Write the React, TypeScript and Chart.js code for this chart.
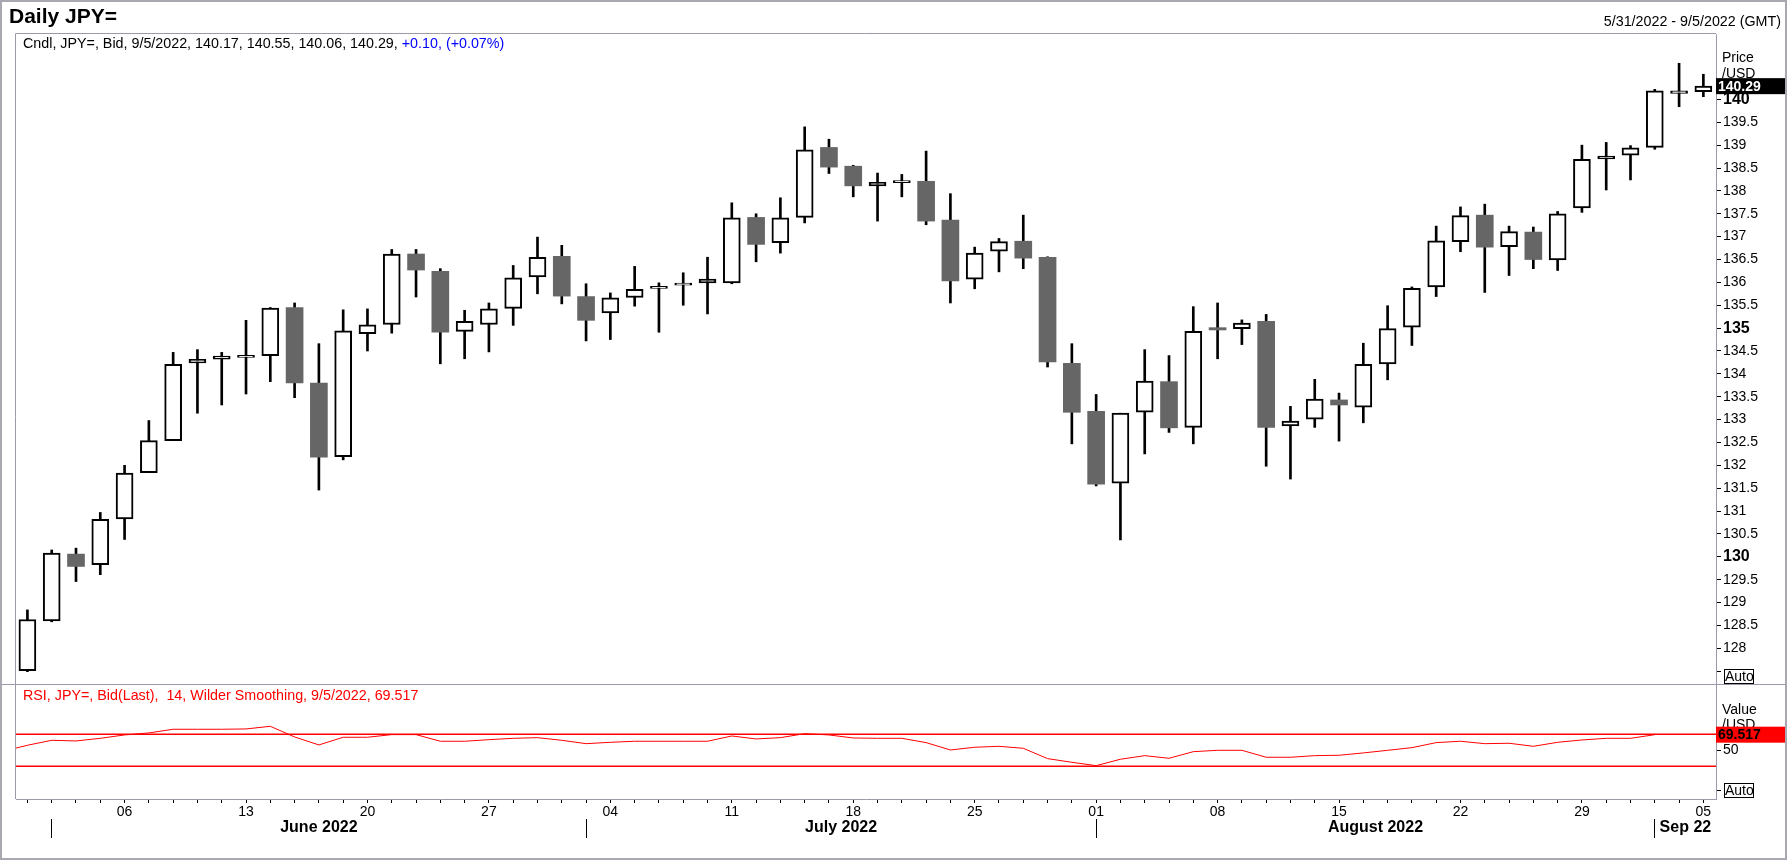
import React, { useEffect, useRef } from 'react';
import { Chart, registerables } from 'chart.js';

Chart.register(...registerables);

const FONT = "'Liberation Sans', Arial, sans-serif";
const FRAME = '#9a9aaa';

const dates = [
  '2022-05-31',
  '2022-06-01', '2022-06-02', '2022-06-03',
  '2022-06-06', '2022-06-07', '2022-06-08', '2022-06-09', '2022-06-10',
  '2022-06-13', '2022-06-14', '2022-06-15', '2022-06-16', '2022-06-17',
  '2022-06-20', '2022-06-21', '2022-06-22', '2022-06-23', '2022-06-24',
  '2022-06-27', '2022-06-28', '2022-06-29', '2022-06-30', '2022-07-01',
  '2022-07-04', '2022-07-05', '2022-07-06', '2022-07-07', '2022-07-08',
  '2022-07-11', '2022-07-12', '2022-07-13', '2022-07-14', '2022-07-15',
  '2022-07-18', '2022-07-19', '2022-07-20', '2022-07-21', '2022-07-22',
  '2022-07-25', '2022-07-26', '2022-07-27', '2022-07-28', '2022-07-29',
  '2022-08-01', '2022-08-02', '2022-08-03', '2022-08-04', '2022-08-05',
  '2022-08-08', '2022-08-09', '2022-08-10', '2022-08-11', '2022-08-12',
  '2022-08-15', '2022-08-16', '2022-08-17', '2022-08-18', '2022-08-19',
  '2022-08-22', '2022-08-23', '2022-08-24', '2022-08-25', '2022-08-26',
  '2022-08-29', '2022-08-30', '2022-08-31', '2022-09-01', '2022-09-02',
  '2022-09-05',
];

const opens = [
  127.51, 128.60, 130.06, 129.83, 130.83, 131.84, 132.54, 134.24, 134.32, 134.36,
  134.40, 135.45, 133.80, 132.19, 134.88, 135.08, 136.62, 136.24, 134.93, 135.08,
  135.43, 136.12, 136.57, 135.69, 135.33, 135.67, 135.87, 135.94, 135.99, 135.99,
  137.42, 136.87, 137.42, 138.95, 138.54, 138.11, 138.18, 138.21, 137.36, 136.07,
  136.68, 136.90, 136.55, 134.23, 133.18, 131.61, 133.16, 133.83, 132.83, 135.01,
  134.99, 135.15, 132.86, 133.01, 133.43, 133.27, 134.22, 135.02, 135.90, 136.89,
  137.47, 136.78, 137.10, 136.49, 137.63, 138.70, 138.78, 138.95, 140.13, 140.17,
];
const highs = [
  128.84, 130.15, 130.19, 130.97, 132.00, 132.98, 134.47, 134.53, 134.47, 135.17,
  135.45, 135.55, 134.66, 135.40, 135.42, 136.72, 136.72, 136.30, 135.39, 135.55,
  136.37, 136.99, 136.81, 135.97, 135.77, 136.35, 135.99, 136.21, 136.55, 137.74,
  137.50, 137.85, 139.40, 139.13, 138.56, 138.39, 138.36, 138.87, 137.94, 136.77,
  136.96, 137.47, 136.56, 134.66, 133.55, 133.14, 134.53, 134.40, 135.47, 135.55,
  135.18, 135.30, 133.29, 133.88, 133.58, 134.67, 135.49, 135.90, 137.23, 137.65,
  137.71, 137.23, 137.21, 137.55, 139.00, 139.06, 138.99, 140.22, 140.79, 140.55,
];
const lows = [
  127.49, 128.58, 129.46, 129.61, 130.38, 131.84, 132.54, 133.14, 133.32, 133.56,
  133.83, 133.48, 131.46, 132.12, 134.50, 134.89, 135.68, 134.22, 134.33, 134.48,
  135.06, 135.75, 135.53, 134.72, 134.75, 135.48, 134.91, 135.50, 135.31, 135.97,
  136.45, 136.64, 137.30, 138.38, 137.87, 137.34, 137.87, 137.26, 135.55, 135.86,
  136.23, 136.30, 134.15, 132.47, 131.55, 130.37, 132.25, 132.72, 132.47, 134.33,
  134.64, 131.98, 131.70, 132.83, 132.53, 132.93, 133.87, 134.62, 135.69, 136.67,
  135.78, 136.15, 136.30, 136.26, 137.53, 138.02, 138.24, 138.91, 139.84, 140.06,
];
const closes = [
  128.63, 130.08, 129.79, 130.82, 131.83, 132.54, 134.21, 134.32, 134.39, 134.37,
  135.44, 133.80, 132.18, 134.94, 135.07, 136.62, 136.27, 134.91, 135.15, 135.42,
  136.10, 136.55, 135.70, 135.17, 135.66, 135.85, 135.88, 135.95, 136.07, 137.41,
  136.83, 137.41, 138.90, 138.52, 138.11, 138.19, 138.19, 137.34, 136.03, 136.64,
  136.89, 136.53, 134.26, 133.16, 131.59, 133.14, 133.84, 132.82, 134.93, 134.96,
  135.11, 132.83, 132.97, 133.45, 133.32, 134.21, 134.99, 135.87, 136.91, 137.46,
  136.77, 137.11, 136.50, 137.50, 138.69, 138.76, 138.94, 140.19, 140.19, 140.29,
];

// RSI value of the session before the first visible candle (5/30/2022)
const rsiPrev = 48.8;
const rsi: (number | null)[] = [
  56.3, 62.5, 61.7, 65.0, 69.2, 71.7, 76.3, 76.3, 76.3, 76.7,
  80.0, 66.7, 56.7, 66.3, 66.3, 69.6, 69.6, 61.3, 61.3, 63.3,
  65.0, 65.8, 62.5, 58.3, 60.0, 61.3, 61.3, 61.3, 61.3, 67.9,
  64.2, 65.8, 70.8, 69.2, 65.4, 65.0, 65.0, 59.6, 50.4, 53.8,
  55.0, 52.5, 39.6, 35.0, 30.8, 38.8, 43.3, 40.0, 48.3, 50.0,
  50.0, 41.3, 41.3, 43.3, 43.8, 46.7, 50.0, 53.3, 59.6, 61.3,
  58.3, 58.8, 55.0, 60.0, 62.9, 65.0, 65.0, 69.517, null, null,
];
const rsiLevels = [70, 30];

const priceTicks = [
  127.5, 128, 128.5, 129, 129.5, 130, 130.5, 131, 131.5, 132, 132.5, 133, 133.5,
  134, 134.5, 135, 135.5, 136, 136.5, 137, 137.5, 138, 138.5, 139, 139.5, 140,
];
const rsiTicks = [0, 50];
const monthNames = ['June 2022', 'July 2022', 'August 2022', 'Sep 22'];

const X_MIN = -0.47;
const X_MAX = 69.52;
const PRICE_MIN = 127.22;
const PRICE_MAX = 141.43;
const RSI_MIN = -10.9;
const RSI_MAX = 132.9;

export default function App() {
  const ref = useRef<HTMLCanvasElement>(null);

  useEffect(() => {
    const canvas = ref.current;
    if (!canvas) return;
    const idx = dates.map((_, i) => i);
    const up = idx.map((i) => closes[i] >= opens[i]);
    const wickData = idx.map((i) => ({ x: i, y: [lows[i], highs[i]] }));
    const bodyData = idx.map((i) => ({ x: i, y: [opens[i], closes[i]] }));
    const rsiData = [{ x: -1, y: rsiPrev }].concat(
      idx.filter((i) => rsi[i] !== null).map((i) => ({ x: i, y: rsi[i] as number }))
    );
    const dayLabels = dates.map((d) =>
      new Date(d + 'T00:00:00Z').getUTCDay() === 1 ? d.slice(8) : ''
    );
    const monthStarts = idx.filter((i) => i > 0 && dates[i].slice(5, 7) !== dates[i - 1].slice(5, 7));
    const monthTicks: { value: number; label: string; sep: boolean }[] = [];
    monthStarts.forEach((s, k) => {
      const next = k + 1 < monthStarts.length ? monthStarts[k + 1] : X_MAX;
      monthTicks.push({ value: s, label: '', sep: true });
      monthTicks.push({ value: (s + next) / 2, label: monthNames[k], sep: false });
    });

    const last = closes.length - 1;
    const chg = closes[last] - closes[last - 1];
    const pct = (chg / closes[last - 1]) * 100;
    const sign = (v: number) => (v >= 0 ? '+' : '');
    const fmtDate = (s: string) => {
      const [y, m, d] = s.split('-');
      return `${parseInt(m, 10)}/${parseInt(d, 10)}/${y}`;
    };
    const lastDate = fmtDate(dates[last]);
    const firstDate = fmtDate(dates[0]);
    const headerBlack = `Cndl, JPY=, Bid, ${lastDate}, ${opens[last].toFixed(2)}, ${highs[last].toFixed(2)}, ${lows[last].toFixed(2)}, ${closes[last].toFixed(2)}, `;
    const headerBlue = `${sign(chg)}${chg.toFixed(2)}, (${sign(pct)}${pct.toFixed(2)}%)`;
    let lastRsi = 0;
    for (let i = rsi.length - 1; i >= 0; i--) {
      if (rsi[i] !== null) { lastRsi = rsi[i] as number; break; }
    }
    const rsiHeader = `RSI, JPY=, Bid(Last),  14, Wilder Smoothing, ${lastDate}, ${lastRsi.toFixed(3)}`;

    const overlay = {
      id: 'overlay',
      afterDraw(chart: any) {
        const ctx = chart.ctx as CanvasRenderingContext2D;
        const { left, top, right, bottom } = chart.chartArea;
        const ys = chart.scales.y;
        const ys2 = chart.scales.y2;
        const W = chart.width;
        const H = chart.height;
        ctx.save();
        // frame lines
        ctx.strokeStyle = FRAME;
        ctx.lineWidth = 1;
        ctx.beginPath();
        ctx.moveTo(left - 0.5, top - 0.5);
        ctx.lineTo(right, top - 0.5);
        ctx.moveTo(left - 0.5, top - 0.5);
        ctx.lineTo(left - 0.5, bottom);
        ctx.moveTo(2, ys.bottom + 0.5);
        ctx.lineTo(W - 2, ys.bottom + 0.5);
        ctx.stroke();
        ctx.strokeStyle = '#a8a8b0';
        ctx.lineWidth = 2;
        ctx.strokeRect(1, 1, W - 3, H - 4);

        ctx.textBaseline = 'middle';
        ctx.textAlign = 'left';
        // title
        ctx.fillStyle = '#000';
        ctx.font = `bold 21px ${FONT}`;
        ctx.fillText('Daily JPY=', 9, 17);
        // date range
        ctx.font = `14.3px ${FONT}`;
        ctx.textAlign = 'right';
        ctx.fillText(`${firstDate} - ${lastDate} (GMT)`, W - 7, 22);
        ctx.textAlign = 'left';
        // header
        ctx.fillText(headerBlack, 23, 44);
        const wb = ctx.measureText(headerBlack).width;
        ctx.fillStyle = '#0000ff';
        ctx.fillText(headerBlue, 23 + wb, 44);
        // RSI header
        ctx.fillStyle = '#ff0000';
        ctx.fillText(rsiHeader, 23, 696);

        const ax = right;
        ctx.font = `14px ${FONT}`;
        // Price / USD
        ctx.fillStyle = '#000';
        ctx.fillText('Price', ax + 6, 58);
        ctx.fillText('/USD', ax + 6, 74);
        // last price box
        const py = ys.getPixelForValue(closes[last]);
        ctx.fillStyle = '#000';
        ctx.fillRect(ax, py - 8, 69, 16);
        ctx.fillStyle = '#fff';
        ctx.font = `bold 14px ${FONT}`;
        ctx.fillText(closes[last].toFixed(2), ax + 2, py + 0.5);
        // Auto box (price)
        ctx.font = `14px ${FONT}`;
        ctx.fillStyle = '#fff';
        ctx.fillRect(ax + 8, ys.bottom - 15, 30, 14);
        ctx.strokeStyle = '#000';
        ctx.lineWidth = 1;
        ctx.strokeRect(ax + 8.5, ys.bottom - 14.5, 29, 14);
        ctx.fillStyle = '#000';
        ctx.fillText('Auto', ax + 9, ys.bottom - 7);

        // Value / USD
        ctx.fillText('Value', ax + 6, 710);
        ctx.fillText('/USD', ax + 6, 725);
        const ry = ys2.getPixelForValue(lastRsi);
        ctx.fillStyle = '#ff0000';
        ctx.fillRect(ax, ry - 8, 69, 16);
        ctx.fillStyle = '#000';
        ctx.font = `bold 14px ${FONT}`;
        ctx.fillText(lastRsi.toFixed(3), ax + 2, ry + 0.5);
        // Auto box (RSI)
        ctx.font = `14px ${FONT}`;
        ctx.fillStyle = '#fff';
        ctx.fillRect(ax + 8, ys2.bottom - 16, 30, 15);
        ctx.strokeStyle = '#000';
        ctx.strokeRect(ax + 8.5, ys2.bottom - 15.5, 29, 14);
        ctx.fillStyle = '#000';
        ctx.fillText('Auto', ax + 9, ys2.bottom - 8);
        ctx.restore();
      },
    };

    const chart = new Chart(canvas, {
      type: 'bar',
      data: {
        datasets: [
          {
            type: 'bar',
            label: 'wick',
            data: wickData as any,
            xAxisID: 'x',
            yAxisID: 'y',
            backgroundColor: '#000',
            borderWidth: 0,
            barThickness: 2,
            grouped: false,
            order: 3,
          },
          {
            type: 'bar',
            label: 'body',
            data: bodyData as any,
            xAxisID: 'x',
            yAxisID: 'y',
            backgroundColor: up.map((u) => (u ? '#ffffff' : '#666666')),
            borderColor: up.map((u) => (u ? '#000000' : '#666666')),
            borderWidth: up.map((u) => (u ? 2 : 0)),
            borderSkipped: false,
            barThickness: 17,
            minBarLength: 2,
            grouped: false,
            order: 2,
          },
          {
            type: 'line',
            label: 'RSI',
            data: rsiData as any,
            xAxisID: 'x',
            yAxisID: 'y2',
            borderColor: '#ff0000',
            borderWidth: 1,
            pointRadius: 0,
            tension: 0,
            order: 1,
          },
          ...rsiLevels.map((lv) => ({
            type: 'line' as const,
            label: 'lvl' + lv,
            data: [{ x: X_MIN, y: lv }, { x: X_MAX, y: lv }] as any,
            xAxisID: 'x',
            yAxisID: 'y2',
            borderColor: '#ff0000',
            borderWidth: 1.5,
            pointRadius: 0,
            order: 1,
          })),
        ],
      },
      options: {
        responsive: false,
        animation: false,
        events: [],
        layout: { padding: { left: 16, top: 34, right: 0, bottom: 0 } },
        plugins: {
          legend: { display: false },
          tooltip: { enabled: false },
          title: { display: false },
        },
        scales: {
          x: {
            type: 'linear',
            position: 'bottom',
            min: X_MIN,
            max: X_MAX,
            bounds: 'data',
            offset: false,
            afterBuildTicks: (scale: any) => {
              scale.ticks = idx.map((i) => ({ value: i }));
            },
            afterFit: (scale: any) => {
              scale.height = 20;
            },
            grid: {
              display: true,
              offset: false,
              drawOnChartArea: false,
              drawTicks: true,
              tickLength: 4,
              tickColor: '#000',
              tickWidth: 1,
            },
            border: { display: true, color: FRAME, width: 1 },
            ticks: {
              autoSkip: false,
              maxRotation: 0,
              minRotation: 0,
              padding: 1,
              color: '#000',
              font: { family: FONT, size: 14 },
              callback: (v: any) => dayLabels[Math.round(Number(v))] || '',
            },
          },
          xMonth: {
            type: 'linear',
            position: 'bottom',
            min: X_MIN,
            max: X_MAX,
            bounds: 'data',
            offset: false,
            afterBuildTicks: (scale: any) => {
              scale.ticks = monthTicks.map((t) => ({ value: t.value }));
            },
            afterFit: (scale: any) => {
              scale.height = 43;
            },
            grid: {
              display: true,
              offset: false,
              drawOnChartArea: false,
              drawTicks: true,
              tickLength: 19,
              tickWidth: 1,
              tickColor: (c: any) => (monthTicks[c.index] && monthTicks[c.index].sep ? '#000' : 'rgba(0,0,0,0)'),
            },
            border: { display: false },
            ticks: {
              autoSkip: false,
              maxRotation: 0,
              minRotation: 0,
              padding: -20,
              color: '#000',
              font: { family: FONT, size: 16, weight: 'bold' },
              callback: (_v: any, i: number) => (monthTicks[i] ? monthTicks[i].label : ''),
            },
          },
          y: {
            type: 'linear',
            position: 'right',
            stack: 'panels',
            stackWeight: 650,
            min: PRICE_MIN,
            max: PRICE_MAX,
            bounds: 'data',
            beginAtZero: false,
            afterBuildTicks: (scale: any) => {
              scale.ticks = priceTicks.map((v) => ({ value: v }));
            },
            afterFit: (scale: any) => {
              scale.width = 72;
            },
            grid: {
              display: true,
              drawOnChartArea: false,
              drawTicks: true,
              tickLength: 5,
              tickColor: '#000',
              tickWidth: 1,
            },
            border: { display: true, color: FRAME, width: 1 },
            ticks: {
              autoSkip: false,
              padding: 2,
              color: '#000',
              font: (c: any) => {
                const v = c.tick ? c.tick.value : 0;
                const major = Math.abs(v % 5) < 1e-9;
                return { family: FONT, size: major ? 16 : 14, weight: major ? 'bold' : 'normal' };
              },
              callback: (v: any) => (Number(v) < 128 ? '' : String(Number(v))),
            },
          },
          y2: {
            type: 'linear',
            position: 'right',
            stack: 'panels',
            stackWeight: 115,
            min: RSI_MIN,
            max: RSI_MAX,
            bounds: 'data',
            beginAtZero: false,
            afterBuildTicks: (scale: any) => {
              scale.ticks = rsiTicks.map((v) => ({ value: v }));
            },
            afterFit: (scale: any) => {
              scale.width = 72;
            },
            grid: {
              display: true,
              drawOnChartArea: false,
              drawTicks: true,
              tickLength: 5,
              tickColor: '#000',
              tickWidth: 1,
            },
            border: { display: true, color: FRAME, width: 1 },
            ticks: {
              autoSkip: false,
              padding: 2,
              color: '#000',
              font: { family: FONT, size: 14 },
              callback: (v: any) => (Number(v) === 50 ? '50' : ''),
            },
          },
        } as any,
      },
      plugins: [overlay],
    });
    return () => chart.destroy();
  }, []);

  return (
    <div style={{ position: 'absolute', left: 0, top: 0, width: 1788, height: 862, background: '#fff' }}>
      <canvas ref={ref} width={1788} height={862} style={{ display: 'block', width: 1788, height: 862 }} />
    </div>
  );
}
